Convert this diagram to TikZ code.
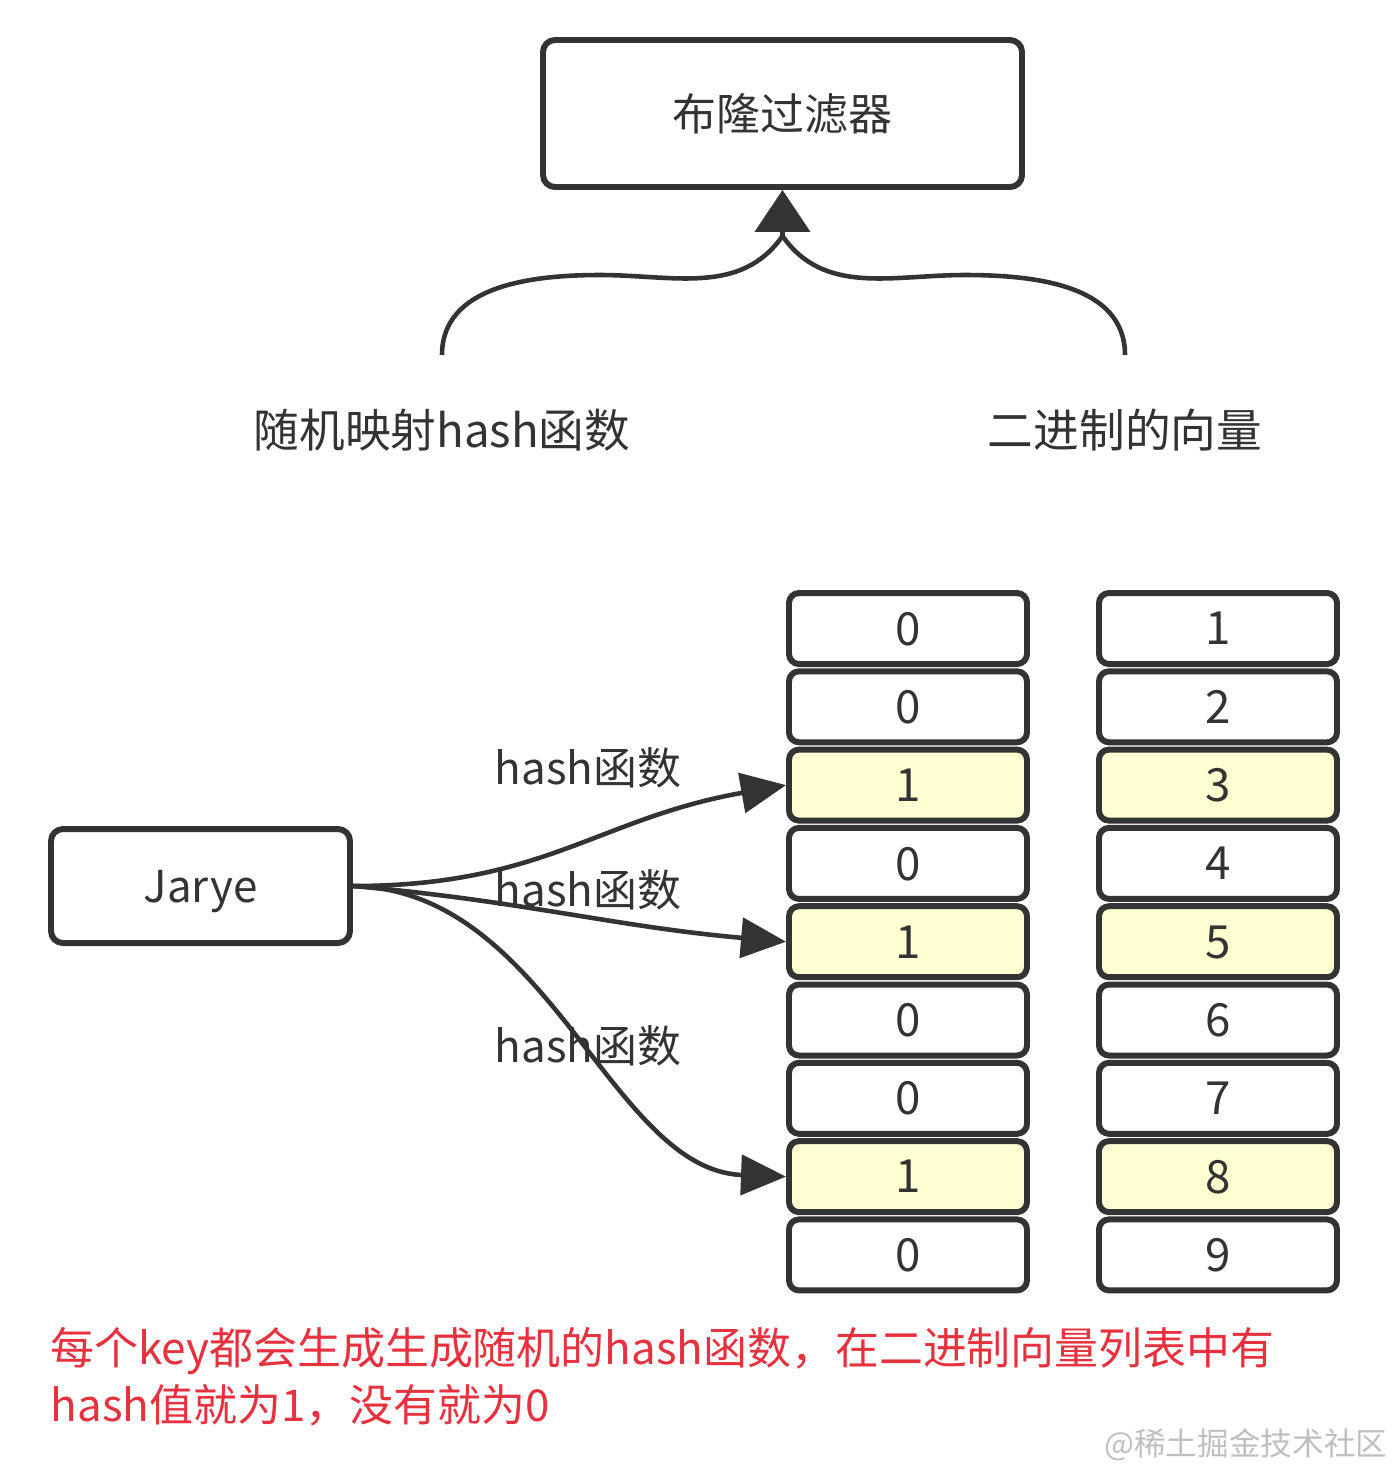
\documentclass[tikz,border=0pt]{standalone}
\usepackage{fontspec}
\setmainfont{Noto Sans CJK SC}
\usetikzlibrary{arrows.meta}
\definecolor{ink}{HTML}{333333}
\definecolor{hitfill}{HTML}{FFFFD2}
\definecolor{note}{HTML}{E5323E}
\begin{document}
\begin{tikzpicture}[line join=round,
  every node/.style={text=ink,font=\fontsize{12.5}{15}\selectfont},
  box/.style={draw=ink,line width=1.7pt,rounded corners=0.12cm},
  cell/.style={box,rounded corners=0.1cm,fill=white,minimum width=2.38cm,minimum height=0.71cm,inner sep=0pt,text depth=-0.1cm},
  hit/.style={cell,fill=hitfill},
  link/.style={draw=ink,line width=1.3pt,-{Triangle[length=0.45cm,width=0.4cm]}}]
  \useasboundingbox (0,0) rectangle (14,-14.8);

  % Filtro y sus dos partes
  \node[box,minimum width=4.79cm,minimum height=1.47cm] (bf) at (7.825,-1.135) {布隆过滤器};
  \node (hashlbl) at (4.42,-4.3) {\fontsize{13}{15}\selectfont 随机映射hash函数};
  \node (veclbl) at (11.25,-4.3) {\fontsize{13}{15}\selectfont 二进制的向量};
  \coordinate (lb) at (4.42,-3.55);
  \coordinate (rb) at (11.25,-3.55);
  \coordinate (tip) at (7.825,-2.36);

  % Llave
  \draw[ink,line width=1.3pt] (lb) to[out=90,in=180] (6.0,-2.75) to[out=0,in=-125] (tip);
  \draw[ink,line width=1.3pt] (rb) to[out=90,in=0] (9.65,-2.75) to[out=180,in=-55] (tip);
  \draw[link,-{Triangle[length=0.42cm,width=0.55cm]}] (tip) -- (bf.south);

  % Clave
  \node[box,minimum width=2.99cm,minimum height=1.14cm,text depth=-0.15cm] (key) at (2.005,-8.86) {Jarye};

  % Vector de bits y posiciones
  \foreach \v [count=\i] in {0,0,1,0,1,0,0,1,0} {
    \pgfmathsetmacro\y{-6.285-0.783*(\i-1)}
    \ifnum\v=1 \def\st{hit}\else\def\st{cell}\fi
    \node[\st] (b\i) at (9.08,\y) {\fontsize{13}{15}\selectfont\v};
    \node[\st] (n\i) at (12.18,\y) {\fontsize{13}{15}\selectfont\i};
  }

  % Funciones hash
  \draw[link] (key.east) to[out=0,in=190,looseness=1.1] (b3.west);
  \draw[link] (key.east) to[out=-5,in=175] (b5.west);
  \draw[link] (key.east) .. controls (5.5,-8.9) and (6.1,-11.7) .. (b8.west);
  \node (h1) at (5.88,-7.68) {hash函数};
  \node (h2) at (5.88,-8.9) {hash函数};
  \node (h3) at (5.88,-10.46) {hash函数};

  % Nota
  \node[anchor=north west,align=left,text=note,inner sep=0pt,font=\fontsize{12.5}{16}\selectfont] (txt) at (0.5,-13.27)
    {每个key都会生成生成随机的hash函数，在二进制向量列表中有\\hash值就为1，没有就为0};
  \node[anchor=east,text=black!25,font=\fontsize{9}{11}\selectfont,inner sep=0pt] (wm) at (13.88,-14.45) {@稀土掘金技术社区};
\end{tikzpicture}
\end{document}
